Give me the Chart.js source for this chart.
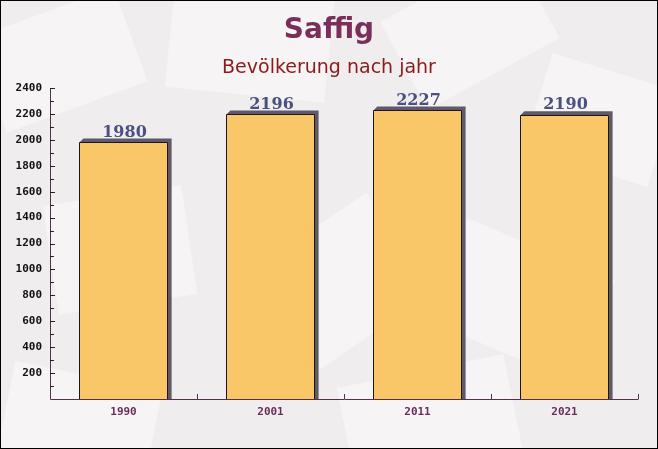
<!DOCTYPE html>
<html>
<head>
<meta charset="utf-8">
<script src="https://cdn.jsdelivr.net/npm/chart.js@4"></script>
<style>
html,body{margin:0;padding:0;background:#f3f0f1;}
#wrap{width:658px;height:449px;position:relative;}
canvas{display:block;}
</style>
</head>
<body>
<div id="wrap"><canvas id="c" width="658" height="449"></canvas></div>
<script>
const titleText = "Saffig";
const subtitleText = "Bevölkerung nach jahr";
const categories = ["1990", "2001", "2011", "2021"];
const populationValues = [1980, 2196, 2227, 2190];
const yTickValues = [0, 200, 400, 600, 800, 1000, 1200, 1400, 1600, 1800, 2000, 2200, 2400];

const decor = {
  id: 'decor',
  beforeDraw(chart) {
    const ctx = chart.ctx;
    ctx.save();
    ctx.fillStyle = '#f0edee';
    ctx.fillRect(0, 0, chart.width, chart.height);
    const shapes = [
      [60, 60, 150, 100, -0.35], [250, 40, 160, 110, 0.1], [470, 30, 150, 100, -0.5],
      [600, 120, 130, 100, 0.3], [120, 250, 140, 110, -0.15], [330, 290, 170, 120, -0.6],
      [520, 300, 160, 110, 0.4], [80, 420, 150, 90, 0.2], [430, 420, 170, 100, -0.2]
    ];
    ctx.fillStyle = 'rgba(255,255,255,0.38)';
    shapes.forEach(s => {
      ctx.save();
      ctx.translate(s[0], s[1]);
      ctx.rotate(s[4]);
      ctx.fillRect(-s[2] / 2, -s[3] / 2, s[2], s[3]);
      ctx.restore();
    });
    ctx.restore();
  },
  beforeDatasetsDraw(chart) {
    const ctx = chart.ctx;
    const meta = chart.getDatasetMeta(0);
    const d = 4;
    ctx.save();
    ctx.fillStyle = '#5f5968';
    meta.data.forEach(bar => {
      const l = bar.x - bar.width / 2, r = bar.x + bar.width / 2, t = bar.y, b = bar.base;
      ctx.beginPath();
      ctx.moveTo(l, t);
      ctx.lineTo(l + d, t - d);
      ctx.lineTo(r + d, t - d);
      ctx.lineTo(r + d, b);
      ctx.lineTo(r, b);
      ctx.lineTo(r, t);
      ctx.closePath();
      ctx.fill();
    });
    ctx.restore();
  },
  afterDatasetsDraw(chart) {
    const ctx = chart.ctx;
    const meta = chart.getDatasetMeta(0);
    const ys = chart.scales.y, xs = chart.scales.x;
    const area = chart.chartArea;
    ctx.save();
    // bar outlines
    ctx.strokeStyle = '#1e1616';
    ctx.lineWidth = 1;
    meta.data.forEach(bar => {
      const l = Math.round(bar.x - bar.width / 2) + 0.5, r = Math.round(bar.x + bar.width / 2) - 0.5;
      const t = Math.round(bar.y) + 0.5, b = bar.base;
      ctx.beginPath();
      ctx.moveTo(l, b);
      ctx.lineTo(l, t);
      ctx.lineTo(r, t);
      ctx.lineTo(r, b);
      ctx.stroke();
    });
    // axes lines
    ctx.strokeStyle = '#55304c';
    ctx.beginPath();
    ctx.moveTo(area.left + 0.5, ys.getPixelForValue(2400));
    ctx.lineTo(area.left + 0.5, area.bottom + 0.5);
    ctx.lineTo(area.right + 0.5, area.bottom + 0.5);
    ctx.stroke();
    // y ticks (inside)
    ctx.strokeStyle = '#222';
    for (let v = 100; v <= 2400; v += 100) {
      const y = Math.round(ys.getPixelForValue(v)) + 0.5;
      const len = (v % 200 === 0) ? 5 : 4;
      ctx.beginPath();
      ctx.moveTo(area.left, y);
      ctx.lineTo(area.left + len, y);
      ctx.stroke();
    }
    // x ticks at category boundaries
    ctx.strokeStyle = '#55304c';
    for (let i = 1; i <= categories.length; i++) {
      const x = Math.round((xs.getPixelForValue(i - 1) + xs.getPixelForValue(i)) / 2);
      const xx = (i === categories.length) ? area.right : x;
      ctx.beginPath();
      ctx.moveTo(xx + 0.5, area.bottom);
      ctx.lineTo(xx + 0.5, area.bottom - 5);
      ctx.stroke();
    }
    // value labels
    ctx.fillStyle = '#4b5082';
    ctx.font = 'bold 16px "DejaVu Serif"';
    ctx.textAlign = 'center';
    ctx.textBaseline = 'middle';
    meta.data.forEach((bar, i) => {
      ctx.fillText(String(populationValues[i]), bar.x + 1, bar.y - 10);
    });
    // titles
    ctx.fillStyle = '#7a2e5a';
    ctx.font = 'bold 28px "DejaVu Sans"';
    ctx.fillText(titleText, 329, 31);
    ctx.fillStyle = '#8b1a1a';
    ctx.font = '19px "DejaVu Sans"';
    ctx.fillText(subtitleText, 329, 68);
    // frame
    ctx.strokeStyle = '#000';
    ctx.strokeRect(0.5, 0.5, chart.width - 1, chart.height - 1);
    ctx.restore();
  }
};

new Chart(document.getElementById('c'), {
  type: 'bar',
  data: {
    labels: categories,
    datasets: [{
      data: populationValues,
      backgroundColor: '#fac768',
      borderWidth: 0,
      barPercentage: 0.6,
      categoryPercentage: 1.0
    }]
  },
  options: {
    responsive: false,
    animation: false,
    events: [],
    layout: {padding: {left: 0, right: 20, top: 88, bottom: 0}},
    plugins: {legend: {display: false}, title: {display: false}, tooltip: {enabled: false}},
    scales: {
      x: {
        grid: {display: false, drawTicks: false},
        border: {display: false},
        ticks: {
          color: '#6b2d58',
          font: {family: '"DejaVu Sans Mono"', size: 11, weight: 'bold'},
          padding: 7
        },
        afterFit(s) { s.height = 50; }
      },
      y: {
        min: 0,
        max: 2400,
        afterBuildTicks(s) { s.ticks = yTickValues.map(v => ({value: v})); },
        grid: {display: false, drawTicks: false},
        border: {display: false},
        ticks: {
          color: '#111',
          font: {family: '"DejaVu Sans Mono"', size: 11, weight: 'bold'},
          padding: 8,
          callback: v => (v === 0 ? '' : String(v))
        },
        afterFit(s) { s.width = 50; }
      }
    }
  },
  plugins: [decor]
});
</script>
</body>
</html>
